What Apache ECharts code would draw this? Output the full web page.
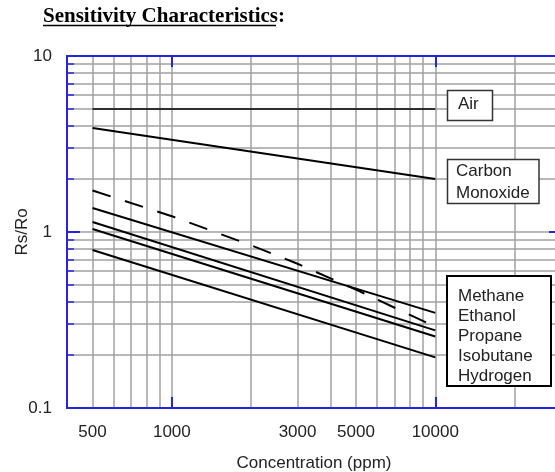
<!DOCTYPE html>
<html>
<head>
<meta charset="utf-8">
<script src="https://cdn.jsdelivr.net/npm/echarts@6/dist/echarts.min.js"></script>
<style>
  html, body { margin: 0; padding: 0; background: #fff; }
  #chart { width: 555px; height: 472px; }
</style>
</head>
<body>
<div id="chart"></div>
<script>
// tick labels and grid positions
const xLabels = [500, 1000, 3000, 5000, 10000]
const xGrid = [500, 600, 700, 800, 900, 1000, 2000, 3000, 4000, 5000, 6000, 7000, 8000, 9000, 10000, 20000]
const yGrid = [0.2, 0.3, 0.4, 0.5, 0.6, 0.7, 0.8, 0.9, 1, 2, 3, 4, 5, 6, 7, 8, 9]

// curves (ppm -> Rs/Ro)
const airPpm = [500, 10000]
const airRs = [5, 5]
const coPpm = [500, 10000]
const coRs = [3.9, 2.0]
const methanePpm = [500, 10000]
const methaneRs = [1.37, 0.347]
const ethanolPpm = [500, 1000, 2000, 3000, 5000, 10000]
const ethanolRs = [1.72, 1.23, 0.84, 0.66, 0.47, 0.29]
const propanePpm = [500, 10000]
const propaneRs = [1.14, 0.276]
const isobutanePpm = [500, 10000]
const isobutaneRs = [1.04, 0.255]
const hydrogenPpm = [500, 10000]
const hydrogenRs = [0.79, 0.194]

const BLUE = '#2525dd'
const GRID = '#a0a0a0'
const FONT = '"Liberation Sans", Arial, sans-serif'

const pairs = (xs, ys) => xs.map((x, i) => [x, ys[i]])

const curve = (name, xs, ys, width, dash) => ({
  name,
  type: 'line',
  data: pairs(xs, ys),
  showSymbol: false,
  symbol: 'none',
  silent: true,
  z: 5,
  lineStyle: { color: '#000', width, type: dash || 'solid' },
})

const chart = echarts.init(document.getElementById('chart'))

const xBase = { type: 'log', logBase: 10, min: 400, max: 30000 }
const yBase = { type: 'log', logBase: 10, min: 0.1, max: 10 }

const option = {
  animation: false,
  backgroundColor: '#fff',
  grid: { left: 67, top: 56, width: 494, height: 352, containLabel: false, outerBoundsMode: 'none' },
  xAxis: [
    {
      ...xBase,
      position: 'bottom',
      axisLine: { lineStyle: { color: BLUE, width: 2 } },
      axisTick: { show: false, customValues: xGrid },
      splitLine: { show: true, lineStyle: { color: GRID, width: 1.5 } },
      axisLabel: {
        customValues: xLabels,
        formatter: (v) => String(v),
        color: '#222',
        fontSize: 17,
        fontFamily: FONT,
        margin: 16,
      },
      name: 'Concentration (ppm)',
      nameLocation: 'middle',
      nameGap: 47,
      nameMoveOverlap: false,
      nameTextStyle: { color: '#222', fontSize: 17, fontFamily: FONT },
    },
    {
      ...xBase,
      position: 'top',
      axisLine: { lineStyle: { color: BLUE, width: 2 } },
      axisTick: { inside: true, length: 11, lineStyle: { color: BLUE, width: 2 } },
      axisLabel: { show: false },
      splitLine: { show: false },
    },
    {
      ...xBase,
      position: 'bottom',
      axisLine: { show: false },
      axisTick: { inside: true, length: 11, lineStyle: { color: BLUE, width: 2 } },
      axisLabel: { show: false },
      splitLine: { show: false },
    },
  ],
  yAxis: [
    {
      ...yBase,
      position: 'left',
      axisLine: { show: true, lineStyle: { color: BLUE, width: 2 } },
      axisTick: { inside: true, length: 7, customValues: yGrid, lineStyle: { color: BLUE, width: 1.5 } },
      splitLine: { show: true, lineStyle: { color: GRID, width: 1.5 } },
      axisLabel: {
        formatter: (v) => String(v),
        color: '#222',
        fontSize: 17,
        fontFamily: FONT,
        margin: 15,
      },
      name: 'Rs/Ro',
      nameLocation: 'middle',
      nameGap: 36,
      nameRotate: 90,
      nameMoveOverlap: false,
      nameTextStyle: { color: '#222', fontSize: 17, fontFamily: FONT },
    },
    {
      ...yBase,
      position: 'left',
      axisLine: { show: false },
      axisTick: { inside: true, length: 13, lineStyle: { color: BLUE, width: 2 } },
      axisLabel: { show: false },
      splitLine: { show: false },
    },
    {
      ...yBase,
      position: 'right',
      axisLine: { show: true, lineStyle: { color: BLUE, width: 2 } },
      axisTick: { inside: true, length: 12, lineStyle: { color: BLUE, width: 2 } },
      axisLabel: { show: false },
      splitLine: { show: false },
    },
  ],
  series: [
    curve('Air', airPpm, airRs, 1.6),
    curve('Carbon Monoxide', coPpm, coRs, 2),
    curve('Methane', methanePpm, methaneRs, 2),
    curve('Ethanol', ethanolPpm, ethanolRs, 2, [19, 15]),
    curve('Propane', propanePpm, propaneRs, 2),
    curve('Isobutane', isobutanePpm, isobutaneRs, 2),
    curve('Hydrogen', hydrogenPpm, hydrogenRs, 2),
  ],
  graphic: [
    {
      type: 'text',
      x: 43,
      y: 17,
      z: 100,
      style: {
        text: 'Sensitivity Characteristics:',
        font: 'bold 21px "Liberation Serif", serif',
        fill: '#000',
        verticalAlign: 'middle',
      },
    },
    {
      type: 'line',
      z: 100,
      shape: { x1: 43, y1: 25.5, x2: 276, y2: 25.5 },
      style: { stroke: '#000', lineWidth: 1.5 },
    },
    {
      type: 'rect',
      z: 100,
      shape: { x: 447.5, y: 90.5, width: 45, height: 30 },
      style: { fill: '#fff', stroke: '#333', lineWidth: 1.5 },
    },
    {
      type: 'text',
      z: 101,
      x: 458,
      y: 104.5,
      style: { text: 'Air', font: '17px ' + FONT, fill: '#222', verticalAlign: 'middle' },
    },
    {
      type: 'rect',
      z: 100,
      shape: { x: 447.5, y: 159.5, width: 91.5, height: 44 },
      style: { fill: '#fff', stroke: '#333', lineWidth: 1.5 },
    },
    {
      type: 'text',
      z: 101,
      x: 456,
      y: 160,
      style: {
        text: 'Carbon\nMonoxide',
        font: '17px ' + FONT,
        fill: '#222',
        lineHeight: 22,
        verticalAlign: 'top',
      },
    },
    {
      type: 'rect',
      z: 100,
      shape: { x: 447, y: 276, width: 104, height: 110 },
      style: { fill: '#fff', stroke: '#000', lineWidth: 2 },
    },
    {
      type: 'text',
      z: 101,
      x: 458,
      y: 286,
      style: {
        text: 'Methane\nEthanol\nPropane\nIsobutane\nHydrogen',
        font: '17px ' + FONT,
        fill: '#222',
        lineHeight: 20,
        verticalAlign: 'top',
      },
    },
  ],
}

// series go on the first axes of each direction
option.series.forEach((s) => {
  s.xAxisIndex = 0
  s.yAxisIndex = 0
})

chart.setOption(option)
</script>
</body>
</html>
